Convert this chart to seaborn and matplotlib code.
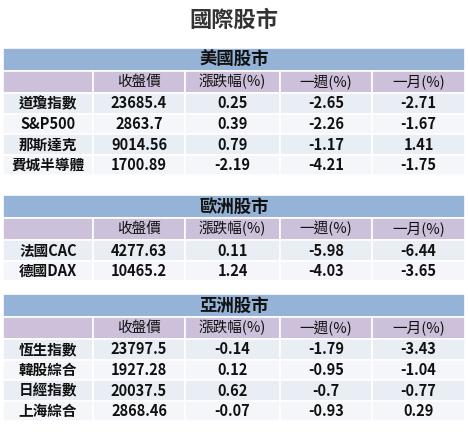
import matplotlib
matplotlib.use("Agg")
import matplotlib.pyplot as plt
import seaborn as sns
from matplotlib.patches import Rectangle

sns.set_theme(style="white")
plt.rcParams['font.family'] = ['Noto Sans CJK TC', 'DejaVu Sans']

title = "國際股市"
columns = ["收盤價", "漲跌幅(%)", "一週(%)", "一月(%)"]
sections = ["美國股市", "歐洲股市", "亞洲股市"]
us_names = ["道瓊指數", "S&P500", "那斯達克", "費城半導體"]
us_close = ["23685.4", "2863.7", "9014.56", "1700.89"]
us_chg = ["0.25", "0.39", "0.79", "-2.19"]
us_week = ["-2.65", "-2.26", "-1.17", "-4.21"]
us_month = ["-2.71", "-1.67", "1.41", "-1.75"]
eu_names = ["法國CAC", "德國DAX"]
eu_close = ["4277.63", "10465.2"]
eu_chg = ["0.11", "1.24"]
eu_week = ["-5.98", "-4.03"]
eu_month = ["-6.44", "-3.65"]
as_names = ["恆生指數", "韓股綜合", "日經指數", "上海綜合"]
as_close = ["23797.5", "1927.28", "20037.5", "2868.46"]
as_chg = ["-0.14", "0.12", "0.62", "-0.07"]
as_week = ["-1.79", "-0.95", "-0.7", "-0.93"]
as_month = ["-3.43", "-1.04", "-0.77", "0.29"]

data = [
    (us_names, us_close, us_chg, us_week, us_month),
    (eu_names, eu_close, eu_chg, eu_week, eu_month),
    (as_names, as_close, as_chg, as_week, as_month),
]
tops = [48, 195, 294]

W, H = 468, 433
fig = plt.figure(figsize=(W/100, H/100), dpi=100)
ax = fig.add_axes([0, 0, 1, 1])
ax.set_xlim(0, W); ax.set_ylim(H, 0); ax.axis("off")

edges = [3, 93, 185, 280, 372, 465]
HEAD = "#95b3d7"; SUB = "#ccc0da"; R1 = "#e9edf4"; R2 = "#f4f6fa"
txt = "#111111"

ax.text(W/2, 20, title, ha="center", va="center", fontsize=16, fontweight="bold", color="#333333")

def rect(x0, y0, x1, y1, c):
    ax.add_patch(Rectangle((x0, y0), x1-x0, y1-y0, facecolor=c, edgecolor="white", lw=1.2))

for top, sec, (names, *vals) in zip(tops, sections, data):
    rect(edges[0], top, edges[-1], top+23, HEAD)
    ax.text(W/2, top+12, sec, ha="center", va="center", fontsize=12.5, fontweight="bold", color=txt)
    y = top + 23
    for i in range(5):
        rect(edges[i], y, edges[i+1], y+22, SUB)
    for i, c in enumerate(columns):
        ax.text((edges[i+1]+edges[i+2])/2, y+11, c, ha="center", va="center", fontsize=10.5, color=txt)
    y += 22
    for r, name in enumerate(names):
        col = R1 if r % 2 == 0 else R2
        for i in range(5):
            rect(edges[i], y, edges[i+1], y+20.5, col)
        ax.text((edges[0]+edges[1])/2, y+10.5, name, ha="center", va="center", fontsize=10.5, fontweight="bold", color=txt)
        for i, v in enumerate(vals):
            ax.text((edges[i+1]+edges[i+2])/2, y+10.5, v[r], ha="center", va="center", fontsize=10.5, fontweight="bold", color=txt)
        y += 20.5

fig.savefig("out.png", dpi=100)
